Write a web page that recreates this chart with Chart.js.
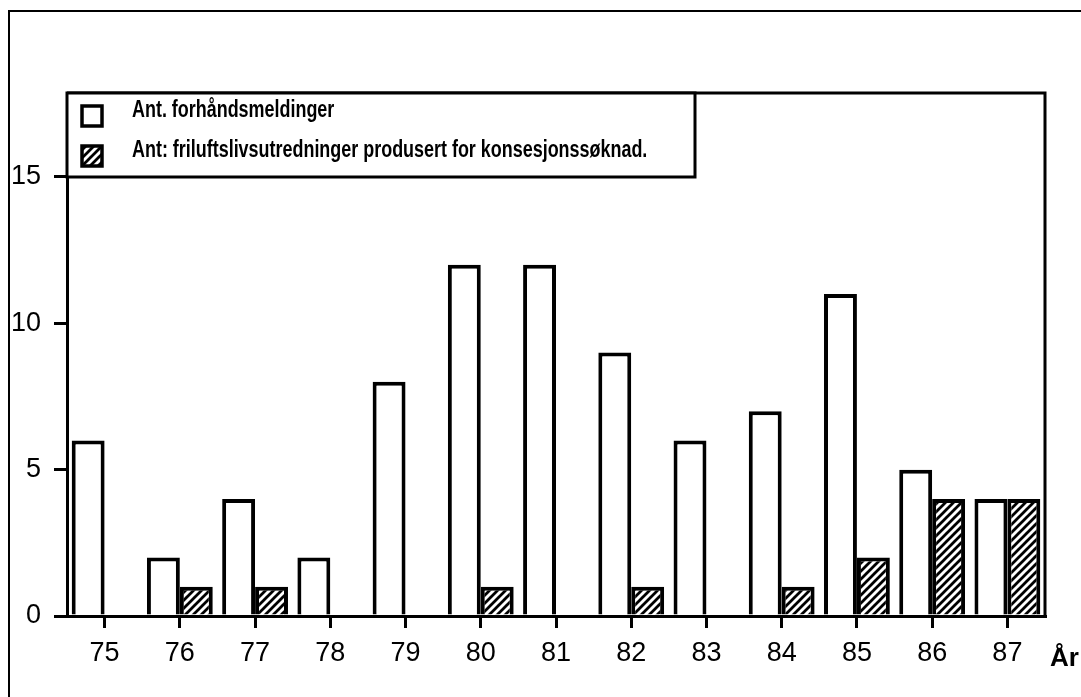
<!DOCTYPE html>
<html>
<head>
<meta charset="utf-8">
<script src="https://cdn.jsdelivr.net/npm/chart.js@4"></script>
<style>
  body { margin: 0; background: #fff; }
  canvas { display: block; }
</style>
</head>
<body>
<canvas id="chart" width="1081" height="697"></canvas>
<script>
// years on the x axis
const years = ['75', '76', '77', '78', '79', '80', '81', '82', '83', '84', '85', '86', '87'];
// Ant. forhåndsmeldinger (white bars)
const forhandsmeldinger = [6, 2, 4, 2, 8, 12, 12, 9, 6, 7, 11, 5, 4];
// Ant: friluftslivsutredninger (hatched bars), null = no bar
const utredninger = [null, 1, 1, null, null, 1, null, 1, null, 1, 2, 4, 4];
// y tick labels
const yTicks = [0, 5, 10, 15];
const labelFirst = 'Ant. forhåndsmeldinger';
const labelSecond = 'Ant: friluftslivsutredninger produsert for konsesjonssøknad.';
const xTitle = 'År';

const FONT = "'Liberation Sans', Arial, Helvetica, sans-serif";

// diagonal hatch fill
function hatch() {
  const n = 8;
  const c = document.createElement('canvas');
  c.width = c.height = n;
  const g = c.getContext('2d');
  g.fillStyle = '#fff';
  g.fillRect(0, 0, n, n);
  g.strokeStyle = '#000';
  g.lineWidth = 2.8;
  g.beginPath();
  g.moveTo(-2, n + 2); g.lineTo(n + 2, -2);
  g.moveTo(-2, 2); g.lineTo(2, -2);
  g.moveTo(n - 2, n + 2); g.lineTo(n + 2, n - 2);
  g.stroke();
  return g.createPattern(c, 'repeat');
}
const hatchFill = hatch();

// frame, legend box and "År" label
const decor = {
  id: 'decor',
  afterDraw(chart) {
    const ctx = chart.ctx;
    const a = chart.chartArea;
    ctx.save();
    ctx.strokeStyle = '#000';

    // outer frame of the page
    ctx.lineWidth = 2;
    ctx.beginPath();
    ctx.moveTo(9, 697); ctx.lineTo(9, 11); ctx.lineTo(1081, 11);
    ctx.stroke();

    // top and right border of plot
    ctx.lineWidth = 3;
    ctx.beginPath();
    ctx.moveTo(a.left, a.top); ctx.lineTo(a.right, a.top); ctx.lineTo(a.right, a.bottom);
    ctx.stroke();

    // legend box
    const y15 = chart.scales.y.getPixelForValue(15);
    const lx = a.left, ly = a.top, lw = 628, lh = y15 - a.top;
    ctx.fillStyle = '#fff';
    ctx.fillRect(lx, ly, lw, lh);
    ctx.strokeRect(lx, ly, lw, lh);

    const items = [
      { text: labelFirst, fill: '#fff', my: 13, ty: 24 },
      { text: labelSecond, fill: hatchFill, my: 53, ty: 64 }
    ];
    items.forEach(it => {
      ctx.fillStyle = it.fill;
      ctx.fillRect(lx + 15, ly + it.my, 20, 20);
      ctx.lineWidth = 3.5;
      ctx.strokeRect(lx + 15, ly + it.my, 20, 20);
      ctx.save();
      ctx.translate(lx + 65, ly + it.ty);
      ctx.scale(0.78, 1);
      ctx.fillStyle = '#000';
      ctx.font = 'bold 23px ' + FONT;
      ctx.textBaseline = 'alphabetic';
      ctx.fillText(it.text, 0, 0);
      ctx.restore();
    });

    // axis title at the right end
    ctx.fillStyle = '#000';
    ctx.font = 'bold 26px ' + FONT;
    ctx.textBaseline = 'alphabetic';
    ctx.fillText(xTitle, a.right + 5, 666);
    ctx.restore();
  }
};

new Chart(document.getElementById('chart'), {
  type: 'bar',
  data: {
    labels: years,
    datasets: [{
      label: labelFirst,
      data: forhandsmeldinger,
      backgroundColor: '#fff',
      borderColor: '#000',
      borderWidth: 4,
      borderSkipped: 'bottom',
      categoryPercentage: 0.875,
      barPercentage: 1
    }, {
      label: labelSecond,
      data: utredninger,
      backgroundColor: hatchFill,
      borderColor: '#000',
      borderWidth: 4,
      borderSkipped: 'bottom',
      categoryPercentage: 0.875,
      barPercentage: 1
    }]
  },
  options: {
    responsive: false,
    animation: false,
    layout: { padding: { left: 0, top: 93, right: 36, bottom: 0 } },
    plugins: { legend: { display: false }, tooltip: { enabled: false } },
    scales: {
      x: {
        grid: { display: true, drawOnChartArea: false, offset: false, tickLength: 12, color: '#000', lineWidth: 3 },
        border: { display: true, color: '#000', width: 3 },
        ticks: { color: '#000', font: { family: FONT, size: 27 }, padding: 9, maxRotation: 0 },
        afterFit(scale) { scale.height = 81; }
      },
      y: {
        min: 0,
        max: 17.87,
        grid: { display: true, drawOnChartArea: false, tickLength: 13, color: '#000', lineWidth: 3 },
        border: { display: true, color: '#000', width: 3 },
        ticks: { color: '#000', font: { family: FONT, size: 27 }, padding: 13 },
        afterBuildTicks(scale) { scale.ticks = yTicks.map(v => ({ value: v })); },
        afterFit(scale) { scale.width = 67; }
      }
    }
  },
  plugins: [decor]
});
</script>
</body>
</html>
